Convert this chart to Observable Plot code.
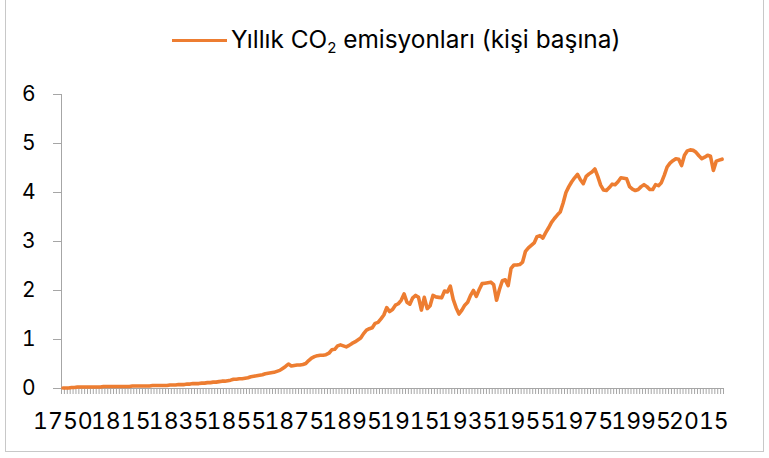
<!DOCTYPE html>
<html>
<head>
<meta charset="utf-8">
<script src="https://cdn.jsdelivr.net/npm/d3@7"></script>
<script src="https://cdn.jsdelivr.net/npm/@observablehq/plot@0.6"></script>
<style>
  body { margin: 0; background: #fff; }
  #wrap { position: relative; width: 769px; height: 458px; overflow: hidden; font-family: Inter, "Liberation Sans", sans-serif; }
  #frame { position: absolute; left: 5px; top: -1px; width: 759px; height: 453px; border: 1px solid #c8c8c8; box-sizing: border-box; }
  #legend { position: absolute; left: 0; top: 0; width: 769px; height: 70px; }
  #swatch { position: absolute; left: 172px; top: 38.5px; width: 55px; height: 3.5px; background: #ED7D31; }
  #ltext { position: absolute; left: 231px; top: 27px; font-size: 24.4px; line-height: 24px; white-space: nowrap; color: #000; }
  #ltext .sub { font-size: 15px; position: relative; top: 5px; }
  #chart { position: absolute; left: 0; top: 70px; }
</style>
</head>
<body>
<div id="wrap">
  <div id="frame"></div>
  <div id="legend">
    <div id="swatch"></div>
    <div id="ltext">Yıllık CO<span class="sub">2</span> emisyonları (kişi başına)</div>
  </div>
  <div id="chart"></div>
</div>
<script>
// Categories: early decadal years, then annual years
const earlyYears = [1750, 1760, 1770, 1780, 1790];
const annualYears = d3.range(1800, 2024);
const years = [...earlyYears, ...annualYears];

// Annual CO2 emissions per capita (tonnes)
const early = [0.01, 0.01, 0.01, 0.02, 0.02];
const v1800s = [0.03,0.03,0.03,0.03,0.03,0.03,0.03,0.03,0.03,0.04,
                0.04,0.04,0.04,0.04,0.04,0.04,0.04,0.04,0.04,0.05,
                0.05,0.05,0.05,0.05,0.05,0.05,0.06,0.06,0.06,0.06,
                0.06,0.06,0.07,0.07,0.07,0.08,0.08,0.08,0.09,0.09,
                0.10,0.10,0.10,0.11,0.11,0.12,0.12,0.13,0.13,0.14,
                0.15,0.15,0.16,0.17,0.19,0.19,0.20,0.20,0.21,0.22,
                0.24,0.25,0.26,0.27,0.28,0.30,0.31,0.32,0.33,0.35,
                0.37,0.41,0.45,0.50,0.46,0.47,0.48,0.48,0.49,0.51,
                0.57,0.62,0.65,0.67,0.68,0.68,0.69,0.72,0.79,0.80,
                0.87,0.89,0.87,0.85,0.88,0.92,0.95,0.99,1.03,1.12];
const v1900s = [1.19,1.22,1.24,1.33,1.35,1.42,1.50,1.65,1.57,1.61,
                1.70,1.73,1.80,1.93,1.76,1.72,1.85,1.90,1.86,1.60,
                1.86,1.63,1.69,1.90,1.87,1.86,1.85,1.99,1.97,2.09,
                1.82,1.65,1.52,1.60,1.70,1.76,1.90,2.00,1.88,2.02,
                2.14,2.15,2.16,2.17,2.12,1.80,2.02,2.20,2.22,2.10,
                2.45,2.52,2.52,2.53,2.58,2.80,2.87,2.92,2.97,3.10,
                3.12,3.07,3.18,3.28,3.39,3.47,3.54,3.60,3.78,4.00,
                4.12,4.22,4.30,4.37,4.26,4.18,4.33,4.38,4.42,4.48,
                4.33,4.15,4.05,4.04,4.10,4.17,4.16,4.22,4.30,4.29,
                4.28,4.12,4.07,4.04,4.06,4.12,4.16,4.12,4.06,4.06];
const v2000s = [4.16,4.14,4.20,4.35,4.52,4.60,4.65,4.69,4.68,4.55,
                4.76,4.85,4.87,4.86,4.82,4.75,4.69,4.72,4.76,4.74,
                4.45,4.64,4.66,4.68];
const values = [...early, ...v1800s, ...v1900s, ...v2000s];

// Tick labels
const labelYears = [1750, 1815, 1835, 1855, 1875, 1895, 1915, 1935, 1955, 1975, 1995, 2015];
const yTicks = [0, 1, 2, 3, 4, 5, 6];

const data = years.map((y, i) => ({i: i + 0.5, year: y, v: values[i]}));
const labelPos = labelYears.map(y => years.indexOf(y) + 0.5);
const labelMap = new Map(labelPos.map((p, k) => [p, String(labelYears[k])]));
const boundaries = d3.range(0, years.length + 1);

const axisColor = "#a6a6a6";
const chart = Plot.plot({
  width: 769,
  height: 388,
  marginLeft: 61,
  marginRight: 46,
  marginTop: 24,
  marginBottom: 70,
  style: {fontFamily: "Inter, 'Liberation Sans', sans-serif", background: "transparent", overflow: "visible"},
  x: {domain: [0, years.length], axis: null},
  y: {domain: [0, 6], axis: null},
  marks: [
    // category boundary tick marks below the axis
    Plot.ruleX(boundaries, {x: d => d, y1: 0, y2: 0, insetBottom: -6, stroke: axisColor, strokeWidth: 1}),
    Plot.axisX(labelPos, {tickSize: 0, tickPadding: 24, tickFormat: d => labelMap.get(d), fontSize: 23, fill: "#000", label: null}),
    Plot.axisY(yTicks, {tickSize: 8, tickPadding: 18, stroke: axisColor, fontSize: 21, fill: "#000", label: null}),
    Plot.ruleY([0], {stroke: axisColor}),
    Plot.ruleX([0], {stroke: axisColor}),
    Plot.lineY(data, {x: "i", y: "v", stroke: "#ED7D31", strokeWidth: 3.6, strokeLinejoin: "round", strokeLinecap: "round"})
  ]
});
document.getElementById("chart").appendChild(chart);
</script>
</body>
</html>
